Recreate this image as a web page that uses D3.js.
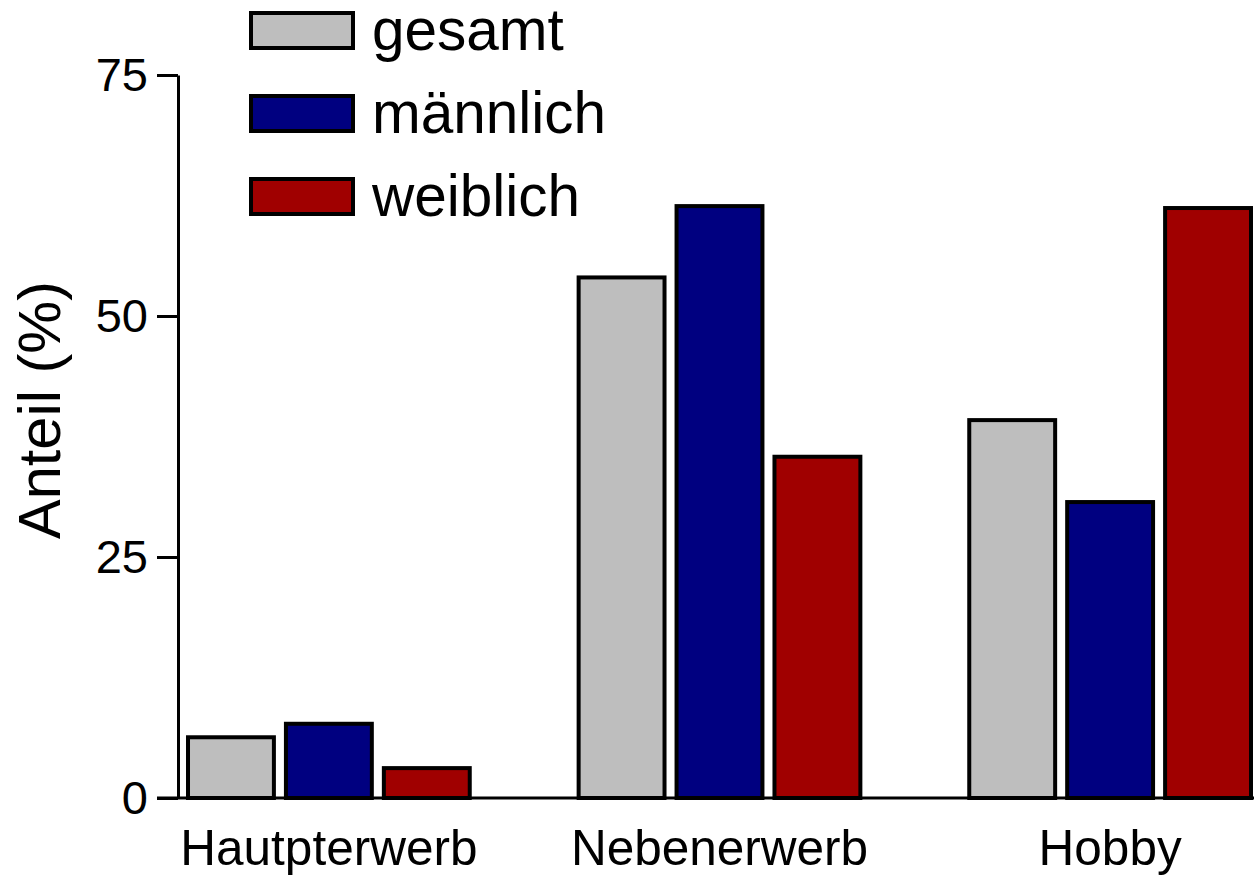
<!DOCTYPE html>
<html>
<head>
<meta charset="utf-8">
<script src="https://cdn.jsdelivr.net/npm/d3@7"></script>
<style>
  html, body { margin: 0; padding: 0; background: #fff; }
  svg { display: block; font-family: "Liberation Sans", Arial, sans-serif; }
</style>
</head>
<body>
<div id="chart"></div>
<script>
/* Anteil nach Erwerbsart — grouped bars, gesamt / männlich / weiblich */

var categories = ["Hautpterwerb", "Nebenerwerb", "Hobby"];
var seriesNames = ["gesamt", "männlich", "weiblich"];
var gesamt = [6.3, 54.0, 39.2];
var maennlich = [7.7, 61.4, 30.7];
var weiblich = [3.1, 35.4, 61.2];
var yTicks = [0, 25, 50, 75];
var seriesColors = ["#bebebe", "#000080", "#a00000"];

var width = 1254, height = 877;
var values = [gesamt, maennlich, weiblich];

var svg = d3.select("#chart").append("svg")
  .attr("width", width).attr("height", height)
  .attr("viewBox", "0 0 " + width + " " + height);

var y = d3.scaleLinear().domain([0, 75]).range([798, 75]);
var x0 = d3.scaleBand().domain(categories).range([178, 1261])
  .paddingInner(0.2685).paddingOuter(0.0205);
var x1 = d3.scaleBand().domain(seriesNames).range([0, x0.bandwidth()])
  .paddingInner(0.082);
var color = d3.scaleOrdinal().domain(seriesNames).range(seriesColors);

var tickLen = 21;
var sw = 4;

/* bars */
var rows = categories.map(function (c, i) {
  return { cat: c, vals: seriesNames.map(function (s, j) { return { s: s, v: values[j][i] }; }) };
});

var groups = svg.append("g").selectAll("g").data(rows).join("g")
  .attr("transform", function (d) { return "translate(" + x0(d.cat) + ",0)"; });

groups.selectAll("rect").data(function (d) { return d.vals; }).join("rect")
  .attr("x", function (d) { return x1(d.s) + sw / 2; })
  .attr("width", x1.bandwidth() - sw)
  .attr("y", function (d) { return y(d.v); })
  .attr("height", function (d) { return y(0) - y(d.v); })
  .attr("fill", function (d) { return color(d.s); })
  .attr("stroke", "#000").attr("stroke-width", sw);

/* y axis */
var yAxis = svg.append("g").attr("transform", "translate(178,0)")
  .call(d3.axisLeft(y).tickValues(yTicks).tickSize(tickLen).tickSizeOuter(0).tickPadding(9));
yAxis.selectAll("path, line").attr("stroke", "#000").attr("stroke-width", 3);
yAxis.selectAll("text").attr("font-size", 47).attr("fill", "#000")
  .attr("font-family", "'Liberation Sans', Arial, sans-serif");

/* x axis baseline + category labels */
svg.append("line")
  .attr("x1", 178 - tickLen).attr("x2", width)
  .attr("y1", y(0)).attr("y2", y(0))
  .attr("stroke", "#000").attr("stroke-width", 3);

var xAxis = svg.append("g").attr("transform", "translate(0," + y(0) + ")")
  .call(d3.axisBottom(x0).tickSize(0).tickPadding(0));
xAxis.select(".domain").remove();
xAxis.selectAll("text").attr("font-size", 49.5).attr("fill", "#000")
  .attr("dy", null).attr("y", 67)
  .attr("font-family", "'Liberation Sans', Arial, sans-serif");

/* y label */
svg.append("text")
  .attr("transform", "translate(60,410) rotate(-90)")
  .attr("text-anchor", "middle")
  .attr("font-size", 59.5)
  .text("Anteil (%)");

/* legend */
var ly = d3.scalePoint().domain(seriesNames).range([11, 177]);
var legend = svg.append("g").selectAll("g").data(seriesNames).join("g")
  .attr("transform", function (d) { return "translate(0," + ly(d) + ")"; });
legend.append("rect")
  .attr("x", 249 + sw / 2).attr("y", sw / 2)
  .attr("width", 106 - sw).attr("height", 39 - sw)
  .attr("fill", function (d) { return color(d); })
  .attr("stroke", "#000").attr("stroke-width", sw);
legend.append("text")
  .attr("x", 372).attr("y", 39)
  .attr("font-size", 58.5)
  .text(function (d) { return d; });
</script>
</body>
</html>
